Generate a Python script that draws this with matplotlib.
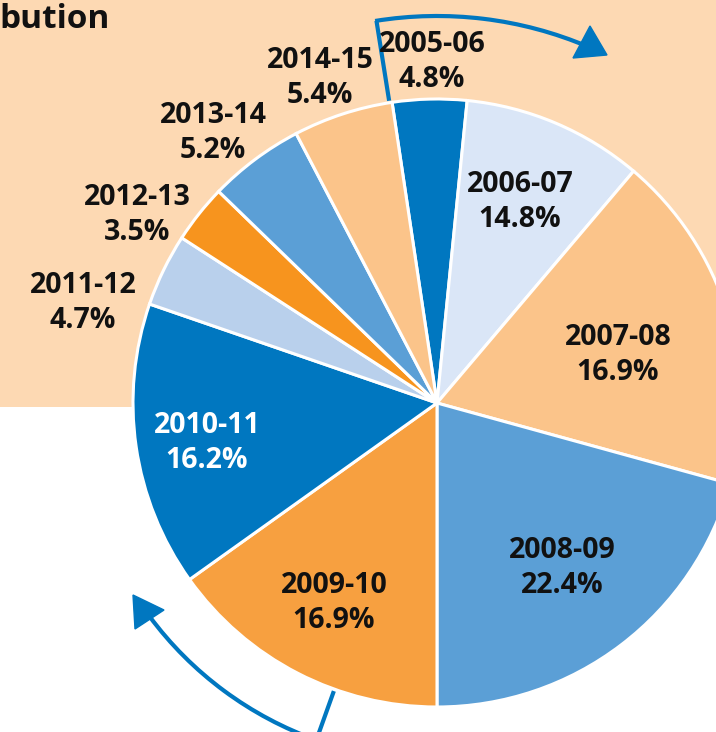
import numpy as np
import matplotlib.pyplot as plt
from matplotlib.patches import Rectangle, Arc, Polygon

plt.rcParams['font.family'] = ['Open Sans', 'DejaVu Sans']

# data
years = ['2005-06', '2006-07', '2007-08', '2008-09', '2009-10',
         '2010-11', '2011-12', '2012-13', '2013-14', '2014-15']
pct_labels = ['4.8%', '14.8%', '16.9%', '22.4%', '16.9%',
              '16.2%', '4.7%', '3.5%', '5.2%', '5.4%']
# wedge sizes as drawn (degrees of the circle)
wedge_deg = [14.2, 34.6, 65.1, 74.6, 54.5, 54.5, 13.9, 11.2, 18.3, 19.1]

colors = ['#0077c0', '#dae6f7', '#fbc48a', '#5b9fd6', '#f7a040',
          '#0077c0', '#b9d0ec', '#f7941e', '#5b9fd6', '#fbc48a']

W, H = 716, 732
cx, cy, R = 437, H - 403, 304

# label centres in pixels (x, y from top)
label_pos = [(432, 62), (520, 202), (618, 355), (562, 568), (334, 603),
             (207, 443), (83, 303), (137, 215), (213, 133), (320, 78)]
label_col = ['#111111'] * 10
label_col[5] = 'white'

fig = plt.figure(figsize=(W / 100, H / 100), dpi=100)
ax = fig.add_axes([0, 0, 1, 1])

ax.add_patch(Rectangle((0, H - 407), W, 407, facecolor='#fdd9b3',
                       edgecolor='none', zorder=0))

ax.pie(wedge_deg, colors=colors, startangle=98.5, counterclock=False,
       center=(cx, cy), radius=R,
       wedgeprops=dict(edgecolor='white', linewidth=2.2))

for (x, y), yr, p, c in zip(label_pos, years, pct_labels, label_col):
    ax.text(x, H - y, yr + '\n' + p, ha='center', va='center',
            fontsize=20.5, fontweight='bold', color=c, linespacing=1.3,
            zorder=5)

ax.text(-1, H - 19, 'bution', ha='left', va='center', fontsize=24,
        fontweight='bold', color='#111111')

# arrows round the pie
blue = '#0077c0'

def radial(ang, r0, r1):
    a = np.radians(ang)
    ax.plot([cx + r0 * np.cos(a), cx + r1 * np.cos(a)],
            [cy + r0 * np.sin(a), cy + r1 * np.sin(a)],
            color=blue, lw=3, solid_capstyle='butt', zorder=4)

radial(99, R + 2, 387)
ax.add_patch(Arc((cx, cy), 2 * 387, 2 * 387, theta1=67, theta2=99.2,
                 color=blue, lw=3, zorder=4))
ax.add_patch(Polygon([(607, H - 55), (573, H - 58), (590, H - 26)],
                     closed=True, color=blue, zorder=4))

radial(250.3, R + 2, 360)
ax.add_patch(Arc((cx, cy), 2 * 358, 2 * 358, theta1=216.5, theta2=250.5,
                 color=blue, lw=3, zorder=4))
ax.add_patch(Polygon([(133, H - 595), (135, H - 629), (164, H - 610)],
                     closed=True, color=blue, zorder=4))

ax.set_xlim(0, W)
ax.set_ylim(0, H)
ax.set_aspect('auto')
ax.axis('off')

fig.savefig('out.png', dpi=100)
